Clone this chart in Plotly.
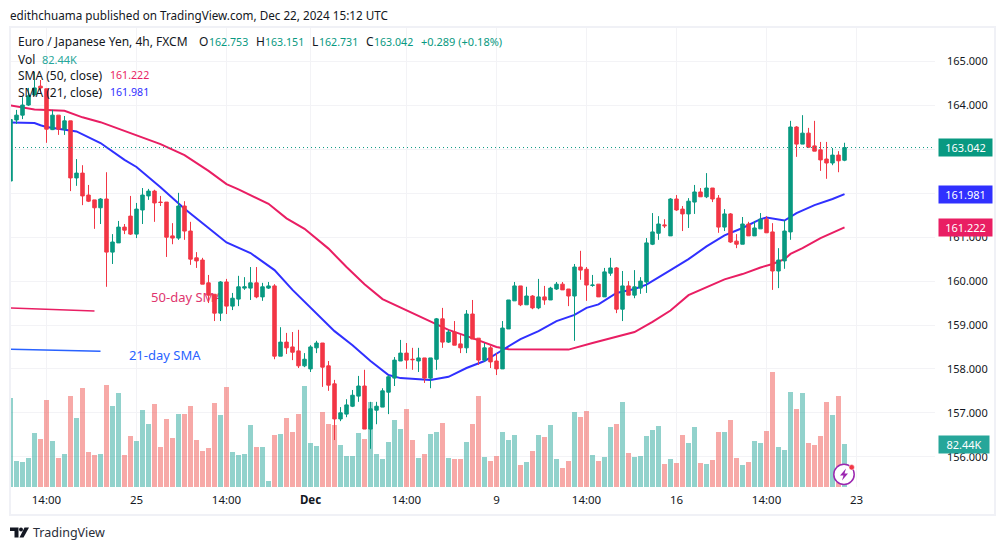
import plotly.graph_objects as go

# ---- data ----
open_ = [162.28,163.67,163.78,164.01,164.24,164.44,164.38,163.45,163.78,163.46,163.65,162.35,162.46,161.96,161.85,161.67,161.87,160.66,160.87,161.23,
161.48,161.07,161.62,161.94,162.05,161.80,161.80,161.03,160.98,161.71,161.14,160.53,160.48,159.96,159.70,159.27,159.98,159.43,159.59,159.84,
159.84,159.96,159.64,159.84,159.89,158.29,158.61,158.50,158.41,158.07,158.00,158.48,158.59,158.07,157.66,156.86,156.97,157.15,157.38,157.61,
156.63,157.06,157.13,157.47,157.79,158.18,158.36,158.22,158.18,158.25,157.79,158.22,159.14,158.61,158.84,158.57,158.48,159.25,158.70,158.20,
158.48,158.18,158.00,158.91,159.55,159.89,159.46,159.66,159.39,159.64,159.57,159.82,159.93,159.82,159.66,160.32,160.27,159.90,159.93,159.64,
160.18,160.30,159.36,159.89,159.68,159.84,159.98,160.84,161.09,161.28,161.03,161.87,161.64,161.53,161.80,162.03,161.92,162.12,161.89,161.23,
161.53,160.91,160.84,161.30,161.03,161.19,161.41,161.12,160.23,160.46,161.12,163.51,163.12,163.37,163.08,162.99,162.78,162.69,162.87,162.753]
high = [163.68,163.90,164.19,164.40,164.76,164.58,164.38,163.90,163.78,163.76,163.65,162.78,162.64,162.19,161.85,161.89,162.48,161.07,161.37,161.30,
161.94,161.78,162.12,162.10,162.08,161.94,161.80,161.32,162.01,161.82,161.35,160.66,160.53,160.14,159.70,160.00,160.05,159.73,160.12,160.09,
160.32,160.32,159.96,159.98,159.93,158.95,158.82,158.84,158.89,158.36,158.54,158.64,158.59,158.18,157.75,157.13,157.31,157.52,157.84,157.98,
157.25,157.25,157.56,157.86,158.27,158.66,158.59,158.48,158.48,158.25,158.25,159.16,159.39,158.89,159.09,158.77,159.34,159.57,158.70,158.59,
158.52,158.36,159.09,159.57,159.98,159.89,159.87,159.68,160.05,159.89,159.87,159.98,159.98,159.82,160.39,160.69,160.32,160.14,159.93,160.30,
160.53,160.32,160.23,160.00,160.25,160.09,160.98,161.55,161.48,161.41,161.89,161.96,161.71,161.89,162.19,162.12,162.46,162.12,161.96,161.64,
161.55,161.07,161.46,161.35,161.37,161.55,161.48,161.32,160.75,161.39,163.65,163.53,163.78,163.49,163.65,163.17,163.17,163.03,162.96,163.151]
low = [162.28,163.58,163.69,163.99,164.22,164.28,163.15,163.44,163.33,163.33,162.05,162.17,161.73,161.80,161.19,161.30,159.87,160.39,160.87,161.07,
161.05,160.98,161.30,161.85,161.35,161.71,160.55,160.84,160.94,160.94,160.37,160.30,159.93,159.50,159.09,159.09,159.25,159.34,159.43,159.80,
159.57,159.61,159.55,159.82,158.22,158.29,158.34,158.20,158.02,158.04,157.93,158.36,157.59,157.50,156.38,156.81,156.90,157.13,157.25,156.63,
156.18,156.74,157.13,156.97,157.61,158.18,158.00,157.98,157.93,157.68,157.56,157.98,158.48,158.59,158.54,158.36,158.36,158.68,158.09,158.16,
158.02,157.86,158.00,158.91,159.55,159.43,159.46,159.36,159.36,159.46,159.57,159.80,159.80,159.43,158.64,160.03,159.55,159.87,159.64,159.64,
160.12,159.27,159.09,159.68,159.61,159.71,159.73,160.82,160.94,161.21,161.03,161.60,161.14,161.21,161.53,161.92,161.89,161.80,161.10,161.14,
160.87,160.75,160.84,161.03,161.03,161.19,161.10,159.80,159.84,160.28,160.94,162.83,163.12,163.03,162.96,162.51,162.33,162.64,162.48,162.731]
close = [163.68,163.78,164.01,164.22,164.40,164.40,163.46,163.78,163.46,163.65,162.35,162.46,161.94,161.82,161.67,161.87,160.66,160.89,161.23,161.16,
161.07,161.64,161.96,162.05,161.78,161.79,161.00,160.98,161.71,161.14,160.50,160.46,159.93,159.68,159.27,159.98,159.43,159.61,159.87,159.87,
159.96,159.64,159.87,159.89,158.29,158.61,158.48,158.38,158.07,158.22,158.50,158.59,158.04,157.63,156.86,157.00,157.18,157.40,157.61,156.63,
157.09,157.15,157.50,157.82,158.20,158.36,158.20,158.21,158.25,157.79,158.25,159.14,158.61,158.84,158.54,158.48,159.25,158.68,158.20,158.48,
158.16,158.00,158.93,159.57,159.89,159.46,159.66,159.39,159.64,159.57,159.84,159.93,159.80,159.66,160.32,160.25,159.91,159.91,159.64,160.21,
160.30,159.36,159.89,159.68,159.87,160.00,160.87,161.12,161.30,161.26,161.87,161.62,161.53,161.82,162.03,161.92,162.12,161.87,161.23,161.53,
160.89,160.84,161.30,161.03,161.21,161.41,161.10,160.23,160.48,161.14,163.51,163.12,163.37,163.05,162.96,162.76,162.69,162.87,162.74,163.042]
volume = [170.6,49.8,47.9,55.6,103.5,92,166.8,88.2,55.6,63.3,174.4,132.3,189.8,67.1,61.3,63.3,195.5,155.3,180.2,61.3,
97.8,88.2,147.6,120.8,159.1,76.7,130.4,93.9,139.9,139.9,155.3,90.1,69,74.8,161,138,191.7,67.1,61.3,63.3,
118.9,76.7,76.7,11.5,99.7,101.6,132.3,105.4,139.9,193.6,84.3,78.6,143.8,120.8,118.9,80.5,59.4,59.4,103.5,92,
162.9,63.3,53.7,86.3,128.4,111.2,149.5,90.1,55.6,63.3,101.6,105.4,122.7,55.6,53.7,53.7,86.3,120.8,174.4,57.5,
49.8,59.4,105.4,90.1,99.7,42.2,47.9,69,99.7,95.9,118.9,53.7,36.4,49.8,143.8,134.2,145.7,61.3,49.8,57.5,
115,120.8,162.9,65.2,57.5,59.4,97.8,109.3,116.9,44.1,53.7,46,99.7,84.3,115,46,44.1,51.8,105.4,105.4,
128.4,55.6,42.2,47.9,88.2,84.3,107.4,220.5,76.7,70.9,182.1,149.5,180.2,84.3,80.5,97.8,162.9,138,174.4,82.44]
candle_index = list(range(len(close)))

sma21_index = [0,4,5,6,11,15,19,21,25,29,33,36,40,44,47,50,54,57,60,63,65,70,73,76,79,82,85,88,91,94,96,98,101,104,106,110,113,116,119,122,125,126,129,131,134,137,139]
sma21_value = [163.61,163.60,163.55,163.51,163.41,163.145,162.76,162.60,162.14,161.65,161.21,160.88,160.64,160.25,159.80,159.39,158.86,158.54,158.18,157.86,157.79,157.75,157.82,158.02,158.18,158.43,158.68,158.86,159.09,159.23,159.39,159.47,159.73,159.82,159.92,160.25,160.50,160.79,161.04,161.21,161.41,161.45,161.38,161.55,161.73,161.87,161.981]
sma50_index = [0,4,9,12,15,21,25,29,33,36,38,43,46,49,53,56,59,62,66,70,73,77,81,83,89,93,97,101,104,107,110,113,117,119,122,125,127,129,130,132,135,139]
sma50_value = [164.00,163.91,163.88,163.73,163.62,163.32,163.12,162.87,162.51,162.21,162.09,161.76,161.43,161.19,160.74,160.32,159.93,159.59,159.34,159.08,158.89,158.70,158.50,158.45,158.45,158.44,158.59,158.73,158.84,159.07,159.33,159.68,159.91,160.04,160.16,160.31,160.39,160.50,160.62,160.75,160.98,161.222]

drawing_50_x, drawing_50_y = [0, 14], [159.39, 159.32]
drawing_21_x, drawing_21_y = [0, 15], [158.45, 158.40]

price_ticks = [156,157,158,159,160,161,162,163,164,165]
time_ticks = [6,21,36,50,66,81,96,111,126,141]
time_labels = ["14:00","25","14:00","<b>Dec</b>","14:00","9","14:00","16","14:00","23"]

FONT = "Noto Sans"
INK = "#131722"
UP, DOWN = "#089981", "#f23645"
VOL_UP, VOL_DOWN = "rgba(38,166,154,0.5)", "rgba(239,83,80,0.5)"
PINK, BLUE = "#e91e63", "#3030ff"
GRID = "#f3f3f6"

L, R, T, B = 11, 935, 28, 487
def px(x): return (x - L) / (R - L)
def py(y): return (B - y) / (B - T)

fig = go.Figure()
fig.add_bar(x=candle_index, y=volume, yaxis="y", width=0.83,
            marker=dict(color=[VOL_UP if c >= o else VOL_DOWN for o, c in zip(open_, close)], line_width=0),
            showlegend=False, hoverinfo="skip")
fig.add_scatter(x=[29.4], y=[159.60], yaxis="y2", mode="text", text=["50-day SMA"], textposition="middle center",
                textfont=dict(family=FONT, size=13, color="#e0356e"), showlegend=False, hoverinfo="skip")
fig.add_scatter(x=[25.7], y=[158.28], yaxis="y2", mode="text", text=["21-day SMA"], textposition="middle center",
                textfont=dict(family=FONT, size=13, color="#2962ff"), showlegend=False, hoverinfo="skip")
fig.add_scatter(x=drawing_50_x, y=drawing_50_y, yaxis="y2", mode="lines", line=dict(color=PINK, width=1.5), showlegend=False)
fig.add_scatter(x=drawing_21_x, y=drawing_21_y, yaxis="y2", mode="lines", line=dict(color="#2962ff", width=1.5), showlegend=False)
fig.add_scatter(x=sma50_index, y=sma50_value, yaxis="y2", mode="lines", line=dict(color=PINK, width=2), showlegend=False)
fig.add_scatter(x=sma21_index, y=sma21_value, yaxis="y2", mode="lines", line=dict(color=BLUE, width=2), showlegend=False)
fig.add_candlestick(x=candle_index, open=open_, high=high, low=low, close=close, yaxis="y3",
                    increasing=dict(line=dict(color=UP, width=1), fillcolor=UP),
                    decreasing=dict(line=dict(color=DOWN, width=1), fillcolor=DOWN),
                    showlegend=False)

ann = []
def text(x, y, s, color=INK, size=12, anchor="left"):
    ann.append(dict(xref="paper", yref="paper", x=px(x), y=py(y), text=s, showarrow=False, xanchor=anchor,
                    yanchor="middle", font=dict(family=FONT, size=size, color=color), align="left", borderpad=0, borderwidth=0))

text(10, 15, "edithchuama published on TradingView.com, Dec 22, 2024 15:12 UTC", size=11.7)
text(18, 42, "Euro / Japanese Yen, 4h, FXCM")
for x, s, c, z in [(199, "O", INK, 12), (208.5, "162.753", UP, 10.6), (256, "H", INK, 12), (265, "163.151", UP, 10.6), (312, "L", INK, 12), (319, "162.731", UP, 10.6),
                (366, "C", INK, 12), (374, "163.042", UP, 10.6), (421, "+0.289 (+0.18%)", UP, 11)]:
    text(x, 42, s, c, z)
text(18, 59, "Vol"); text(42, 59, "82.44K", "#26a69a", 11)
text(18, 75, "SMA (50, close)"); text(110, 75, "161.222", PINK, 10.6)
text(18, 92, "SMA (21, close)"); text(110, 92, "161.981", BLUE, 10.6)
text(33, 532, "TradingView", "#2a2e39", 12.5)

for val, col, ref, w in [(163.042, UP, "y2", 53), (161.981, BLUE, "y2", 53), (161.222, PINK, "y2", 53), (82.44, "#26a69a", "y", 50)]:
    label = f"{val:.3f}" if ref == "y2" else "82.44K"
    ann.append(dict(xref="paper", yref=ref, x=px(938), y=val, xanchor="left", yanchor="middle", text=label, showarrow=False,
                    bgcolor=col, width=w, height=17, align="center", font=dict(family=FONT, size=11, color="white"), borderpad=0))

def poly(pts):
    return "M" + " L".join(f"{px(a):.5f},{py(b):.5f}" for a, b in pts) + " Z"

shapes = [
    dict(type="rect", xref="paper", yref="paper", x0=px(10), x1=px(995), y0=py(27), y1=py(515), line=dict(color="#f0f1f6", width=2), layer="below"),
    dict(type="line", xref="paper", yref="y2", x0=0, x1=1, y0=163.042, y1=163.042, line=dict(color=UP, width=1, dash="1px,3px")),
    dict(type="path", xref="paper", yref="paper", path=poly([(10,527.5),(18.5,527.5),(18.5,537.5),(14.5,537.5),(14.5,531),(10,531)]), fillcolor="#131722", line_width=0),
    dict(type="circle", xref="paper", yref="paper", x0=px(19), x1=px(23), y0=py(527.5), y1=py(531.5), fillcolor="#131722", line_width=0),
    dict(type="path", xref="paper", yref="paper", path=poly([(24.5,527.5),(29,527.5),(23.5,537.5),(19.5,537.5)]), fillcolor="#131722", line_width=0),
    dict(type="circle", xref="paper", yref="paper", x0=px(833.8), x1=px(854.2), y0=py(464.3), y1=py(484.5), fillcolor="white", line=dict(color="#9c27b0", width=1.5)),
    dict(type="path", xref="paper", yref="paper", path=poly([(846,468.5),(840,475.5),(843.5,475.5),(842,480.5),(848,473.5),(844.5,473.5)]), fillcolor="#9c27b0", line_width=0),
    dict(type="circle", xref="paper", yref="paper", x0=px(849), x1=px(854.4), y0=py(464.6), y1=py(470), fillcolor="#f23645", line=dict(color="white", width=0.5)),
]

fig.update_layout(
    width=1005, height=550, autosize=False, margin=dict(l=L, r=1005-R, t=T, b=550-B),
    paper_bgcolor="white", plot_bgcolor="white", bargap=0, boxgap=0.17, hovermode=False,
    font=dict(family=FONT, size=12, color=INK), showlegend=False,
    xaxis=dict(range=[0.083, 154.08], tickmode="array", tickvals=time_ticks, ticktext=time_labels, showgrid=True, gridcolor=GRID,
               gridwidth=1, zeroline=False, showline=False, ticks="", ticklabelstandoff=4, rangeslider=dict(visible=False), tickfont=dict(size=11.5, color=INK), anchor="y"),
    yaxis=dict(range=[0, 880], visible=False, showgrid=False, zeroline=False, domain=[0, 1]),
    yaxis2=dict(range=[155.31, 165.765], overlaying="y", side="right", tickmode="array", tickvals=price_ticks, tickformat=".3f",
                showgrid=True, gridcolor=GRID, gridwidth=1, zeroline=False, showline=False, ticks="", ticklabelstandoff=11, tickfont=dict(size=11, color=INK), anchor="x"),
    yaxis3=dict(range=[155.31, 165.765], overlaying="y", visible=False, showgrid=False, zeroline=False, anchor="x"),
    annotations=ann, shapes=shapes,
)
fig.write_html("out.html", config={"displayModeBar": False}, post_script="document.body.style.margin='0';document.documentElement.style.overflow='hidden';")
